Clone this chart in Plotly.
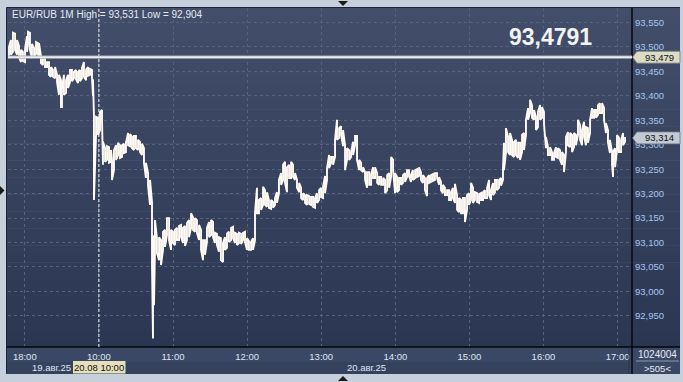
import plotly.graph_objects as go

# ---- data: minute bars, x = trading minutes (0 = 18:00 19.08, 60 = 10:00 20.08 ... 480 = 17:00) ----
t = [
    # evening 19.08
    -12.8, -11.2, -9.6, -7.9, -6.3, -4.7, -3.1, -1.5, 0.2, 1.8, 2.6, 4.2, 5.8, 7.5, 9.1, 10.7, 11.5,
    13.1, 14.7, 16.4, 18.0, 19.6, 21.2, 22.8, 24.5, 26.1, 27.7, 29.3, 30.1, 31.7, 33.4, 35.0, 36.6,
    38.2, 39.8, 41.5, 43.1, 44.7, 46.3, 47.9, 49.6, 51.2, 52.8, 54.4, 55.2, 56.0, 57.7, 59.3, 60.9,
    62.5, 63.3, 65.0,
    66.6, 68.2, 69.8, 70.6, 72.2, 73.9, 75.5, 77.1, 78.7, 80.3, 81.9, 83.6, 85.2, 86.8, 88.4, 90.0,
    91.7, 93.3, 94.9, 96.5, 98.1, 99.8, 101.4, 103.0, 103.8, 104.6, 105.4, 107.0, 108.7, 110.3,
    111.9, 113.5, 115.1, 116.8, 118.4, 120.0, 121.6, 123.2, 124.9, 126.5, 128.1, 129.7, 131.3, 133.0,
    134.6, 136.2, 137.8, 139.4, 141.1, 142.7, 144.3, 145.9, 147.5, 149.2, 150.8, 152.4,
    154.0, 155.6, 157.2, 158.8, 160.5, 162.1, 163.7, 165.3, 167.0, 168.6, 170.2, 171.8, 173.4, 175.1,
    176.7, 178.3, 179.9, 181.5, 183.2, 184.8, 186.4, 188.0, 189.6, 191.3, 192.9, 194.5, 196.1, 197.7,
    199.4, 201.0, 202.6, 204.2, 205.8, 207.5, 209.1, 210.7, 212.3, 214.0, 215.6, 217.2, 218.8, 220.4,
    222.1, 223.7, 225.3, 226.9,
    228.5, 230.2, 231.8, 233.4, 235.0, 236.6, 238.3, 239.9, 241.5, 243.1, 244.7, 246.4, 248.0, 249.6,
    251.2, 252.8, 254.5, 256.1, 257.7, 259.3, 260.9, 262.6, 264.2, 265.8, 267.4, 269.0, 270.7, 272.3,
    273.9, 275.5, 277.1, 278.8, 280.4, 282.0, 283.6, 285.3, 286.9, 288.5, 290.1, 291.7, 293.4, 295.0,
    296.6, 298.2, 299.8, 301.4, 303.0, 304.6, 306.2, 307.9, 309.5, 311.1, 312.7,
    314.3, 316.0, 317.6, 319.2, 320.8, 322.4, 324.0, 325.7, 327.3, 328.9, 330.5, 332.1, 333.8, 335.4,
    337.0, 338.6, 340.2, 341.9, 343.5, 345.1, 346.7, 348.3, 350.0, 351.6, 353.2, 354.8, 356.4, 358.1,
    359.7, 361.3, 362.9, 364.5, 366.2, 367.8, 369.4, 371.0, 372.6, 374.3, 375.9, 377.5, 379.1, 380.7,
    382.3, 384.0, 385.6, 387.2, 388.0, 389.6, 391.3, 392.9,
    394.5, 396.1, 397.7, 399.4, 401.0, 402.6, 404.2, 405.8, 407.5, 409.1, 410.7, 412.3, 413.9, 415.5,
    417.2, 418.8, 420.4, 422.0, 423.6, 425.3, 426.9, 428.5, 430.1, 431.7, 433.4, 435.0, 436.6, 438.2,
    439.8, 441.5, 443.1, 444.7, 446.3, 447.9, 449.6, 451.2, 452.8, 454.4, 456.0, 457.7, 459.3, 460.9,
    462.5, 464.1, 465.7, 467.4, 469.0, 470.6, 472.2, 473.8, 475.5, 476.3, 477.9, 479.5, 481.1, 482.8,
    484.4, 486.0,
]

high = [
    93.500, 93.514, 93.529, 93.527, 93.514, 93.502, 93.494, 93.490, 93.496, 93.522, 93.531, 93.529,
    93.506, 93.498, 93.510, 93.508, 93.508, 93.481, 93.477, 93.477, 93.469, 93.469, 93.459, 93.453,
    93.459, 93.443, 93.443, 93.432, 93.416, 93.443, 93.432, 93.443, 93.453, 93.453, 93.449, 93.453,
    93.449, 93.453, 93.457, 93.469, 93.453, 93.459, 93.455, 93.453, 93.434, 93.359, 93.357, 93.355,
    93.367, 93.371, 93.306, 93.293,
    93.297, 93.295, 93.289, 93.269, 93.289, 93.299, 93.304, 93.299, 93.299, 93.302, 93.304, 93.324,
    93.322, 93.316, 93.318, 93.318, 93.310, 93.306, 93.302, 93.293, 93.263, 93.242, 93.228, 93.183,
    93.085, 93.115, 93.146, 93.109, 93.111, 93.105, 93.122, 93.126, 93.150, 93.150, 93.126, 93.122,
    93.126, 93.130, 93.134, 93.136, 93.130, 93.134, 93.140, 93.146, 93.160, 93.152, 93.150, 93.146,
    93.136, 93.126, 93.105, 93.105, 93.130, 93.142, 93.146, 93.142,
    93.120, 93.118, 93.111, 93.109, 93.099, 93.111, 93.118, 93.122, 93.130, 93.132, 93.120, 93.118,
    93.120, 93.118, 93.120, 93.122, 93.109, 93.103, 93.101, 93.109, 93.160, 93.212, 93.187, 93.191,
    93.214, 93.207, 93.203, 93.187, 93.187, 93.183, 93.191, 93.203, 93.228, 93.242, 93.259, 93.265,
    93.254, 93.259, 93.265, 93.259, 93.242, 93.228, 93.222, 93.212, 93.201, 93.197,
    93.197, 93.195, 93.193, 93.193, 93.191, 93.201, 93.207, 93.212, 93.214, 93.236, 93.252, 93.279,
    93.275, 93.275, 93.310, 93.351, 93.334, 93.338, 93.330, 93.299, 93.293, 93.289, 93.285, 93.306,
    93.318, 93.318, 93.269, 93.263, 93.254, 93.244, 93.244, 93.244, 93.240, 93.254, 93.254, 93.242,
    93.234, 93.234, 93.232, 93.228, 93.238, 93.242, 93.275, 93.269, 93.242, 93.234, 93.232, 93.232,
    93.238, 93.242, 93.248, 93.248, 93.238,
    93.248, 93.248, 93.250, 93.254, 93.244, 93.238, 93.232, 93.232, 93.238, 93.238, 93.240, 93.242,
    93.242, 93.234, 93.224, 93.218, 93.212, 93.207, 93.207, 93.203, 93.212, 93.220, 93.197, 93.191,
    93.187, 93.191, 93.191, 93.197, 93.201, 93.222, 93.212, 93.203, 93.201, 93.199, 93.201, 93.203,
    93.207, 93.212, 93.228, 93.207, 93.222, 93.228, 93.228, 93.228, 93.232, 93.252, 93.304, 93.334,
    93.316, 93.324,
    93.310, 93.306, 93.310, 93.304, 93.304, 93.320, 93.324, 93.351, 93.375, 93.392, 93.381, 93.371,
    93.357, 93.367, 93.381, 93.377, 93.367, 93.316, 93.295, 93.295, 93.285, 93.283, 93.295, 93.293,
    93.289, 93.285, 93.279, 93.316, 93.326, 93.324, 93.320, 93.324, 93.320, 93.351, 93.340, 93.330,
    93.347, 93.336, 93.334, 93.351, 93.375, 93.371, 93.371, 93.381, 93.385, 93.385, 93.375, 93.344,
    93.330, 93.310, 93.285, 93.285, 93.293, 93.320, 93.314, 93.310, 93.324, 93.316,
]

low = [
    93.477, 93.484, 93.490, 93.494, 93.484, 93.479, 93.469, 93.471, 93.469, 93.490, 93.504, 93.494,
    93.477, 93.479, 93.486, 93.484, 93.481, 93.467, 93.463, 93.459, 93.459, 93.443, 93.439, 93.439,
    93.436, 93.428, 93.402, 93.377, 93.377, 93.402, 93.406, 93.416, 93.428, 93.430, 93.436, 93.434,
    93.426, 93.430, 93.436, 93.439, 93.432, 93.441, 93.443, 93.436, 93.400, 93.187, 93.322, 93.320,
    93.330, 93.351, 93.259, 93.265,
    93.269, 93.263, 93.265, 93.228, 93.248, 93.269, 93.279, 93.273, 93.275, 93.283, 93.285, 93.299,
    93.297, 93.293, 93.289, 93.293, 93.289, 93.285, 93.279, 93.263, 93.232, 93.216, 93.177, 93.054,
    92.904, 92.972, 93.085, 93.079, 93.064, 93.054, 93.085, 93.091, 93.115, 93.105, 93.085, 93.099,
    93.095, 93.105, 93.105, 93.111, 93.099, 93.093, 93.105, 93.111, 93.130, 93.126, 93.122, 93.120,
    93.105, 93.085, 93.064, 93.075, 93.101, 93.111, 93.115, 93.111,
    93.099, 93.095, 93.081, 93.064, 93.060, 93.085, 93.089, 93.101, 93.105, 93.109, 93.099, 93.095,
    93.099, 93.097, 93.105, 93.101, 93.085, 93.085, 93.085, 93.085, 93.105, 93.160, 93.160, 93.167,
    93.177, 93.177, 93.173, 93.171, 93.169, 93.171, 93.177, 93.181, 93.201, 93.218, 93.228, 93.222,
    93.203, 93.232, 93.232, 93.234, 93.228, 93.212, 93.203, 93.191, 93.187, 93.181,
    93.177, 93.179, 93.177, 93.173, 93.171, 93.181, 93.187, 93.193, 93.191, 93.201, 93.228, 93.252,
    93.263, 93.259, 93.275, 93.310, 93.314, 93.320, 93.297, 93.248, 93.269, 93.269, 93.275, 93.279,
    93.299, 93.269, 93.248, 93.248, 93.244, 93.228, 93.212, 93.218, 93.218, 93.232, 93.232, 93.222,
    93.218, 93.218, 93.218, 93.201, 93.207, 93.212, 93.234, 93.248, 93.201, 93.203, 93.207, 93.218,
    93.222, 93.224, 93.234, 93.236, 93.224,
    93.228, 93.232, 93.234, 93.236, 93.228, 93.222, 93.207, 93.195, 93.222, 93.224, 93.226, 93.228,
    93.232, 93.218, 93.207, 93.201, 93.197, 93.197, 93.187, 93.187, 93.191, 93.181, 93.167, 93.162,
    93.160, 93.160, 93.142, 93.167, 93.177, 93.187, 93.181, 93.187, 93.183, 93.181, 93.187, 93.187,
    93.191, 93.191, 93.197, 93.187, 93.197, 93.203, 93.207, 93.212, 93.216, 93.228, 93.248, 93.283,
    93.285, 93.279,
    93.279, 93.275, 93.279, 93.273, 93.269, 93.285, 93.289, 93.320, 93.351, 93.365, 93.355, 93.351,
    93.330, 93.336, 93.351, 93.355, 93.342, 93.293, 93.279, 93.279, 93.269, 93.269, 93.275, 93.273,
    93.269, 93.259, 93.244, 93.285, 93.299, 93.295, 93.285, 93.295, 93.299, 93.320, 93.310, 93.299,
    93.316, 93.299, 93.304, 93.324, 93.355, 93.355, 93.355, 93.361, 93.365, 93.365, 93.351, 93.324,
    93.304, 93.283, 93.259, 93.234, 93.254, 93.289, 93.285, 93.285, 93.299, 93.306,
]

x_tick_vals = [0, 60, 120, 180, 240, 300, 360, 420, 480]
x_tick_text = ["18:00", "10:00", "11:00", "12:00", "13:00", "14:00", "15:00", "16:00", "17:00"]
y_tick_vals = [92.95, 93.00, 93.05, 93.10, 93.15, 93.20, 93.25, 93.30, 93.35, 93.40, 93.45, 93.50, 93.55]
y_tick_text = ["92,950", "93,000", "93,050", "93,100", "93,150", "93,200", "93,250",
               "93,300", "93,350", "93,400", "93,450", "93,500", "93,550"]

bid_price = 93.4791
bid_label = "93,479"
last_price = 93.314
last_label = "93,314"
title_text = "EUR/RUB 1M High = 93,531 Low = 92,904"
big_text = "93,4791"
cursor_time = 60
cursor_label = "20.08 10:00"
date_labels = ["19.авг.25", "20.авг.25"]
corner_top = "1024004"
corner_bottom = ">505<"

# ---- geometry helpers (pixel -> paper) ----
W, H = 683, 382
ML, MR, MT, MB = 8, 51, 8, 35
PW, PH = W - ML - MR, H - MT - MB


def xp(px):
    return (px - ML) / PW


def yp(py):
    return (H - MB - py) / PH


# ---- data trace: high/low bars joined into one zig-zag line ----
xs, ys = [], []
for i, (ti, hi, lo) in enumerate(zip(t, high, low)):
    xs += [ti, ti]
    ys += [lo, hi] if i % 2 == 0 else [hi, lo]

fig = go.Figure()
fig.add_trace(go.Scatter(x=xs, y=ys, mode="lines",
                         line=dict(color="#fffaf4", width=1.9),
                         hoverinfo="skip", showlegend=False))

shapes = []
# gradient background for chart and right price panel
N = 40
top_c, bot_c = (66, 78, 106), (42, 54, 82)
y_top, y_bot = 7.5, 347
for k in range(N):
    f = (k + 0.5) / N
    c = tuple(int(round(top_c[j] + (bot_c[j] - top_c[j]) * f)) for j in range(3))
    y0 = y_top + (y_bot - y_top) * k / N
    y1 = y_top + (y_bot - y_top) * (k + 1) / N
    shapes.append(dict(type="rect", xref="paper", yref="paper", layer="below",
                       x0=xp(6.5), x1=xp(680), y0=yp(y1 + 0.5), y1=yp(y0),
                       fillcolor="rgb(%d,%d,%d)" % c, line=dict(width=0)))
# bottom axis band
shapes.append(dict(type="rect", xref="paper", yref="paper", layer="below",
                   x0=xp(6.5), x1=xp(680), y0=yp(374), y1=yp(347),
                   fillcolor="#3b4865", line=dict(width=0)))
shapes.append(dict(type="rect", xref="paper", yref="paper", layer="below",
                   x0=xp(6.5), x1=xp(629), y0=yp(374), y1=yp(362),
                   fillcolor="#35425e", line=dict(width=0)))
# frame lines
shapes.append(dict(type="line", xref="paper", yref="paper", x0=xp(6.5), x1=xp(680),
                   y0=yp(347), y1=yp(347), line=dict(color="#05070c", width=1.5)))
shapes.append(dict(type="line", xref="paper", yref="paper", x0=xp(632), x1=xp(632),
                   y0=yp(7.5), y1=yp(374), line=dict(color="#05070c", width=1.5)))
shapes.append(dict(type="line", xref="paper", yref="paper", x0=xp(6.5), x1=xp(6.5),
                   y0=yp(7.5), y1=yp(374), line=dict(color="#1c2436", width=1)))
shapes.append(dict(type="line", xref="paper", yref="paper", x0=xp(6.5), x1=xp(680),
                   y0=yp(7.5), y1=yp(7.5), line=dict(color="#1c2436", width=1)))
shapes.append(dict(type="line", xref="paper", yref="paper", x0=xp(629), x1=xp(629),
                   y0=yp(347), y1=yp(374), line=dict(color="#26304a", width=1)))
shapes.append(dict(type="line", xref="paper", yref="paper", x0=xp(636), x1=xp(679),
                   y0=yp(361), y1=yp(361), line=dict(color="#8a98b0", width=1)))
# cursor line at 10:00 (white dashed)
shapes.append(dict(type="line", xref="x", yref="paper", x0=cursor_time, x1=cursor_time,
                   y0=0, y1=1, layer="above", line=dict(color="#f4f4f4", width=1, dash="3px,2px")))
# bid line
shapes.append(dict(type="line", xref="paper", yref="y", x0=0, x1=1, y0=bid_price, y1=bid_price,
                   layer="above", line=dict(color="#a9adb4", width=3.2)))
shapes.append(dict(type="line", xref="paper", yref="y", x0=0, x1=1, y0=bid_price, y1=bid_price,
                   layer="above", line=dict(color="#ffffff", width=1.2)))


def badge(yc_px, fill):
    return dict(type="path", xref="paper", yref="paper", layer="above",
                path="M %f %f L %f %f L %f %f L %f %f L %f %f Z" % (
                    xp(632.5), yp(yc_px), xp(637), yp(yc_px - 6), xp(680), yp(yc_px - 6),
                    xp(680), yp(yc_px + 6), xp(637), yp(yc_px + 6)),
                fillcolor=fill, line=dict(color="#6d737c", width=0.8))


def py_of(v):
    return MT + (93.5796 - v) / (93.5796 - 92.8864) * PH


shapes.append(badge(py_of(bid_price), "#dcdcc4"))
shapes.append(badge(py_of(last_price), "#c3cad3"))

# navigation triangles on frame
for path in ["M 338 1 L 348 1 L 343 6 Z", "M 338 381 L 348 381 L 343 376 Z", "M 0 186 L 0 195 L 4.5 190.5 Z"]:
    pts = path.replace("M", "").replace("Z", "").split("L")
    conv = []
    for p in pts:
        a, b = p.split()
        conv.append("%f %f" % (xp(float(a)), yp(float(b))))
    shapes.append(dict(type="path", xref="paper", yref="paper",
                       path="M " + " L ".join(conv) + " Z",
                       fillcolor="#1b1b1b", line=dict(width=0)))

# cursor time box on the axis
shapes.append(dict(type="rect", xref="paper", yref="paper", x0=xp(73), x1=xp(125.5),
                   y0=yp(373.5), y1=yp(361), fillcolor="#e6dfbd", line=dict(width=0)))

FONT = "Liberation Sans, Arial, sans-serif"
ann = []
ann.append(dict(xref="paper", yref="paper", x=xp(9.5), y=yp(14.5), text=title_text,
                showarrow=False, xanchor="left", yanchor="middle",
                font=dict(family=FONT, size=10, color="#e4e9f2")))
ann.append(dict(xref="paper", yref="paper", x=xp(550), y=yp(36.5), text="<b>%s</b>" % big_text,
                showarrow=False, xanchor="center", yanchor="middle",
                font=dict(family=FONT, size=23, color="#f2f2f2")))
ann.append(dict(xref="paper", yref="y", x=xp(659), y=bid_price, text=bid_label, showarrow=False,
                xanchor="center", yanchor="middle", font=dict(family=FONT, size=9.5, color="#101010")))
ann.append(dict(xref="paper", yref="y", x=xp(659), y=last_price, text=last_label, showarrow=False,
                xanchor="center", yanchor="middle", font=dict(family=FONT, size=9.5, color="#101010")))
ann.append(dict(xref="paper", yref="paper", x=xp(99.3), y=yp(367.3), text=cursor_label, showarrow=False,
                xanchor="center", yanchor="middle", font=dict(family=FONT, size=9.5, color="#101010")))
ann.append(dict(xref="paper", yref="paper", x=xp(72.5), y=yp(367), text=date_labels[0], showarrow=False,
                xanchor="right", yanchor="middle", font=dict(family=FONT, size=9.5, color="#dfe6f0")))
ann.append(dict(xref="paper", yref="paper", x=xp(366), y=yp(367), text=date_labels[1], showarrow=False,
                xanchor="center", yanchor="middle", font=dict(family=FONT, size=9.5, color="#dfe6f0")))
ann.append(dict(xref="paper", yref="paper", x=xp(657.5), y=yp(355), text=corner_top, showarrow=False,
                xanchor="center", yanchor="middle", font=dict(family=FONT, size=10, color="#e6ebf3")))
ann.append(dict(xref="paper", yref="paper", x=xp(657.5), y=yp(368), text=corner_bottom, showarrow=False,
                xanchor="center", yanchor="middle", font=dict(family=FONT, size=9.5, color="#e6ebf3")))

fig.update_layout(
    width=W, height=H,
    margin=dict(l=ML, r=MR, t=MT, b=MB, pad=0),
    paper_bgcolor="#c6d0dc",
    plot_bgcolor="rgba(0,0,0,0)",
    showlegend=False,
    shapes=shapes,
    annotations=ann,
    xaxis=dict(range=[-13.6, 491.65], tickmode="array", tickvals=x_tick_vals, ticktext=x_tick_text,
               showgrid=True, gridcolor="#56637f", griddash="3px,3px", gridwidth=1,
               zeroline=False, showline=False, ticks="", ticklabelstandoff=2,
               tickfont=dict(family=FONT, size=9.5, color="#dfe6f0"), fixedrange=True),
    yaxis=dict(range=[92.8864, 93.5796], side="right", tickmode="array", tickvals=y_tick_vals,
               ticktext=y_tick_text, showgrid=True, gridcolor="#56637f", griddash="3px,3px",
               gridwidth=1, zeroline=False, showline=False, ticks="", ticklabelstandoff=2,
               tickfont=dict(family=FONT, size=9.5, color="#a9c6f0"), fixedrange=True),
)

fig.write_html("out.html")
